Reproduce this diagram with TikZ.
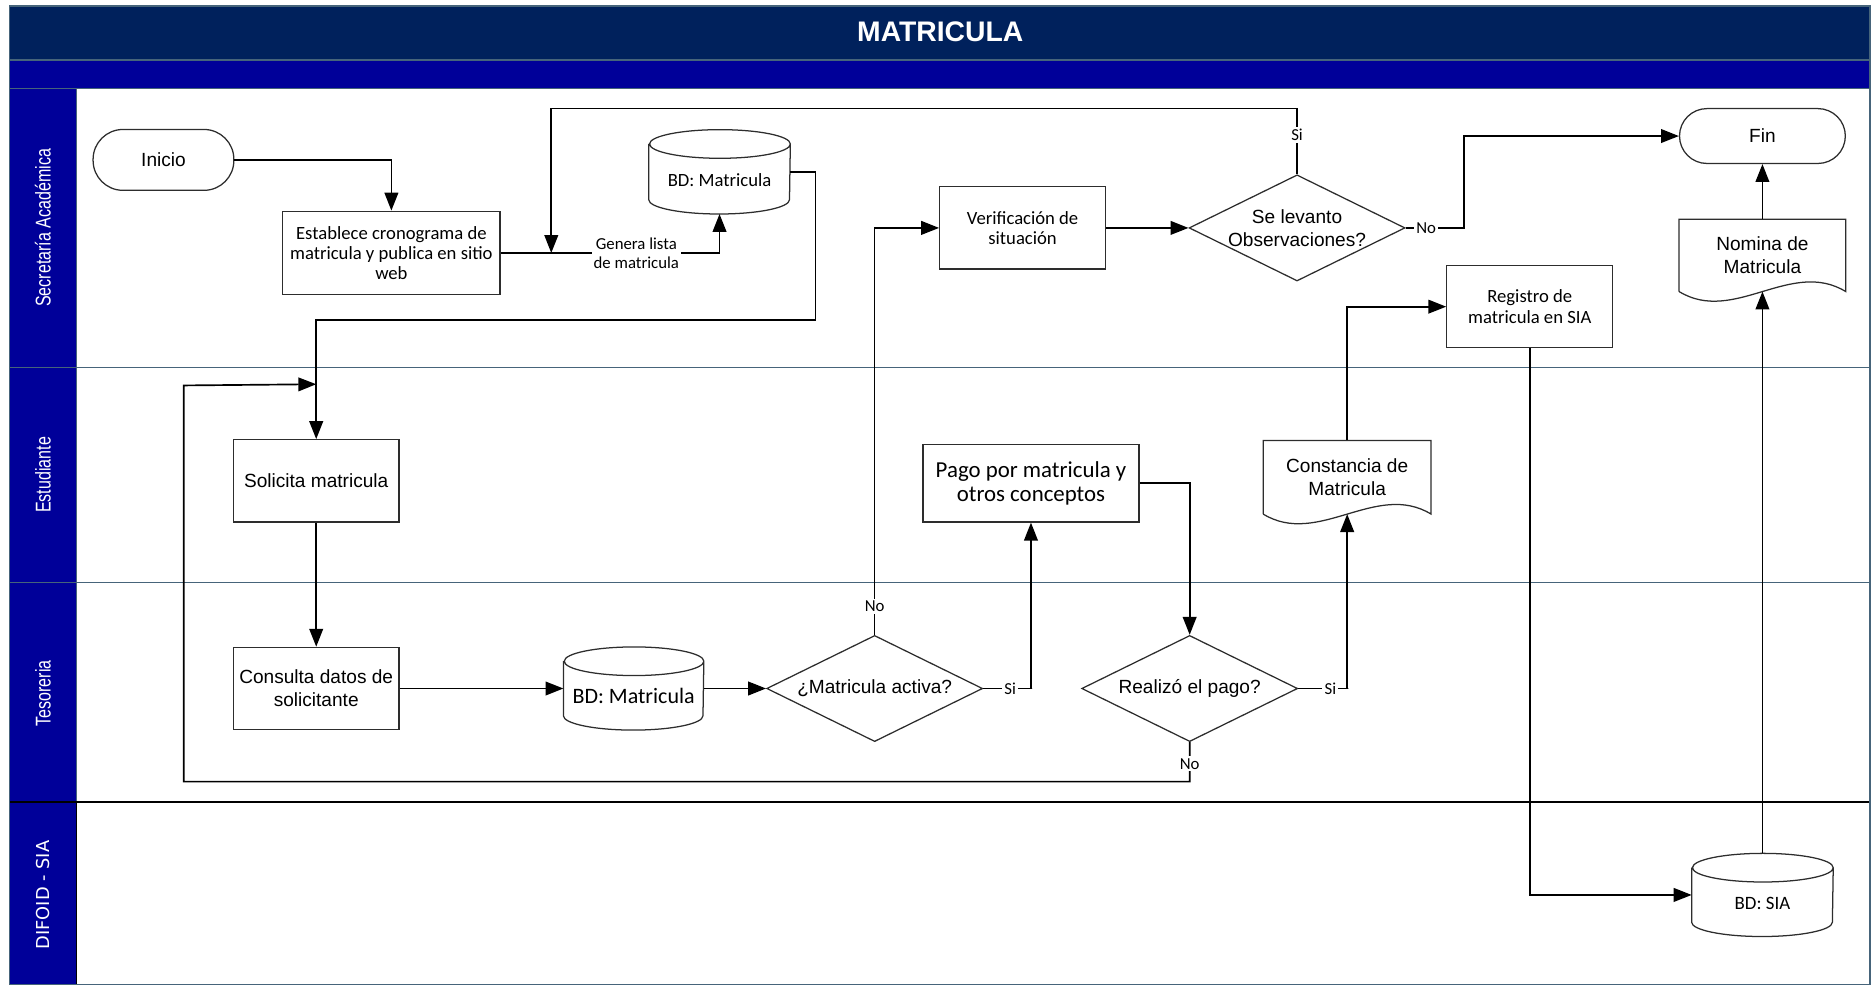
\documentclass[tikz,border=0pt]{standalone}
\usepackage{fontspec}
\setmainfont{Liberation Sans}
\newfontfamily\calibri{Carlito}
\newfontfamily\lanefont{Liberation Sans}[FakeStretch=0.75]
\newfontfamily\difoidfont{DejaVu Sans}
\usetikzlibrary{arrows.meta,shapes.geometric}

\definecolor{titlenavy}{RGB}{0,33,92}
\definecolor{laneblue}{RGB}{0,0,153}
\definecolor{laneline}{RGB}{70,100,122}
\definecolor{shapeline}{RGB}{45,45,45}

\newcommand{\docoutline}[1]{%
  \draw[shapeline,line width=0.6pt] (#1.south west) -- (#1.north west) -- (#1.north east) -- (#1.south east)
    .. controls +(-46,-28) and +(46,28) .. (#1.south west);}
\newcommand{\dboutline}[2]{%
  \draw[shapeline,line width=0.6pt] ([yshift=-0.24cm]#1.north west) -- ([yshift=0.24cm]#1.south west)
    arc[start angle=180,end angle=360,x radius=#2,y radius=0.24cm] -- ([yshift=-0.24cm]#1.north east)
    arc[start angle=0,end angle=360,x radius=#2,y radius=0.24cm];}

\begin{document}
\begin{tikzpicture}[x=0.02cm,y=-0.02cm,>={Triangle[length=0.3cm,width=0.23cm]},
  box/.style={draw=shapeline,line width=0.6pt,fill=white,align=center,inner sep=1.5pt,minimum width=2.78cm,minimum height=1.38cm},
  cal/.style={font=\calibri\fontsize{8.9}{9.7}\selectfont},
  ari/.style={font=\fontsize{9.1}{10.9}\selectfont},
  term/.style={box,ari,rounded corners=0.5cm},
  db/.style={align=center,inner sep=1pt,text height=0.48cm,text depth=0pt,minimum width=2.36cm,minimum height=1.4cm},
  decision/.style={diamond,aspect=2,draw=shapeline,line width=0.6pt,fill=white,align=center,inner sep=0pt,minimum width=3.62cm,minimum height=1.78cm,ari},
  doc/.style={align=center,inner sep=1pt,minimum width=2.78cm,minimum height=1.2cm,ari},
  flow/.style={->,line width=0.8pt},
  lbl/.style={fill=white,align=center,inner sep=1pt,font=\calibri\fontsize{8}{9}\selectfont},
  lane/.style={rotate=90,text=white,font=\lanefont\fontsize{10.2}{12}\selectfont}]
  \useasboundingbox (0,0) rectangle (1568,825);

  \fill[titlenavy] (8,5) rectangle (1568,50);
  \fill[laneblue] (8,50) rectangle (1568,74);
  \fill[laneblue] (8,74) rectangle (64,825);
  \draw[laneline,line width=0.8pt] (8,50) -- (1568,50);
  \draw[laneline] (8,74) -- (1568,74);
  \draw[laneline] (8,308) -- (1568,308);
  \draw[laneline] (8,488) -- (1568,488);
  \draw[laneline] (64,74) -- (64,672);
  \draw[line width=0.8pt] (8,672) -- (1568,672);
  \draw (64,672) -- (64,825);
  \draw[laneline,line width=0.8pt] (8,5) rectangle (1567,825);

  \node[text=white,font=\bfseries\fontsize{13.5}{15}\selectfont] (titulo) at (788,27) {MATRICULA};
  \node[lane] (lsec) at (36,191) {Secretaría Académica};
  \node[lane] (lest) at (36,398) {Estudiante};
  \node[lane] (ltes) at (36,581) {Tesoreria};
  \node[rotate=90,text=white,font=\difoidfont\fontsize{8.5}{10}\selectfont] (ldif) at (36,750) {DIFOID - SIA};

  \node[term,minimum width=2.36cm,minimum height=1.02cm] (inicio) at (137,134) {Inicio};
  \node[box,cal,minimum width=3.64cm,minimum height=1.4cm] (establece) at (328,212) {Establece cronograma de\\matricula y publica en sitio\\web};
  \node[db,cal] (bdmat1) at (603,144) {BD: Matricula};
  \dboutline{bdmat1}{1.18cm}
  \node[box,cal] (verif) at (857,191) {Verificación de\\situación};
  \node[decision] (levanto) at (1087,191) {Se levanto\\Observaciones?};
  \node[term,minimum height=0.92cm,rounded corners=0.46cm] (fin) at (1477,114) {Fin};
  \node[doc] (nomina) at (1477,214) {Nomina de\\Matricula};
  \docoutline{nomina}
  \node[box,cal] (registro) at (1282,257) {Registro de\\matricula en SIA};

  \node[box,ari] (solicita) at (265,403) {Solicita matricula};
  \node[box,font=\calibri\fontsize{10.9}{11.6}\selectfont,minimum width=3.62cm,minimum height=1.3cm] (pago) at (864,405) {Pago por matricula y\\otros conceptos};
  \node[doc,minimum width=2.8cm,minimum height=1.22cm] (constancia) at (1129,400) {Constancia de\\Matricula};
  \docoutline{constancia}

  \node[box,ari] (consulta) at (265,577) {Consulta datos de\\solicitante};
  \node[db,font=\calibri\fontsize{10.5}{12}\selectfont,text height=0.5cm,minimum width=2.34cm,minimum height=1.38cm] (bdmat2) at (531,577) {BD: Matricula};
  \dboutline{bdmat2}{1.17cm}
  \node[decision] (activa) at (733,577) {¿Matricula activa?};
  \node[decision] (pagoq) at (997,577) {Realizó el pago?};

  \node[db,font=\calibri\fontsize{9}{11}\selectfont,minimum height=1.38cm] (bdsia) at (1477,750) {BD: SIA};
  \dboutline{bdsia}{1.18cm}

  \coordinate (join) at (462,212);
  \coordinate (reentry) at (265,322);

  \draw[flow] (inicio.east) -| (establece.north);
  \draw[flow] (establece.east) -| node[lbl,pos=0.31] {Genera lista\\de matricula} (bdmat1.south);
  \draw[flow] (levanto.north) -- node[lbl,pos=0.6] {Si} ++(0,-55) -| (join);
  \draw[flow] (bdmat1.east) -- ++(21,0) -- ++(0,124) -| (solicita.north);
  \draw[flow] (pagoq.south) -- node[lbl,pos=0.55] {No} ++(0,33) -| ++(-843,-332) -- (reentry);
  \draw[flow] (solicita) -- (consulta);
  \draw[flow] (consulta) -- (bdmat2);
  \draw[flow] (bdmat2) -- (activa);
  \draw[flow] (activa.north) -- node[lbl,pos=0.6] {No} ++(0,-40) |- (verif.west);
  \draw[flow] (activa.east) -- node[lbl,pos=0.55] {Si} ++(41,0) -| (pago.south);
  \draw[flow] (pago.east) -| (pagoq.north);
  \draw[flow] (pagoq.east) -- node[lbl,pos=0.64] {Si} ++(42,0) -| (constancia.south);
  \draw[flow] (constancia.north) |- (registro.west);
  \draw[flow] (verif.east) -- (levanto.west);
  \draw[flow] (levanto.east) -- node[lbl,pos=0.35] {No} ++(49,0) |- (fin.west);
  \draw[flow] (registro.south) |- (bdsia.west);
  \draw[flow] (bdsia.north) -- (nomina.south);
  \draw[flow] (nomina.north) -- (fin.south);
\end{tikzpicture}
\end{document}
